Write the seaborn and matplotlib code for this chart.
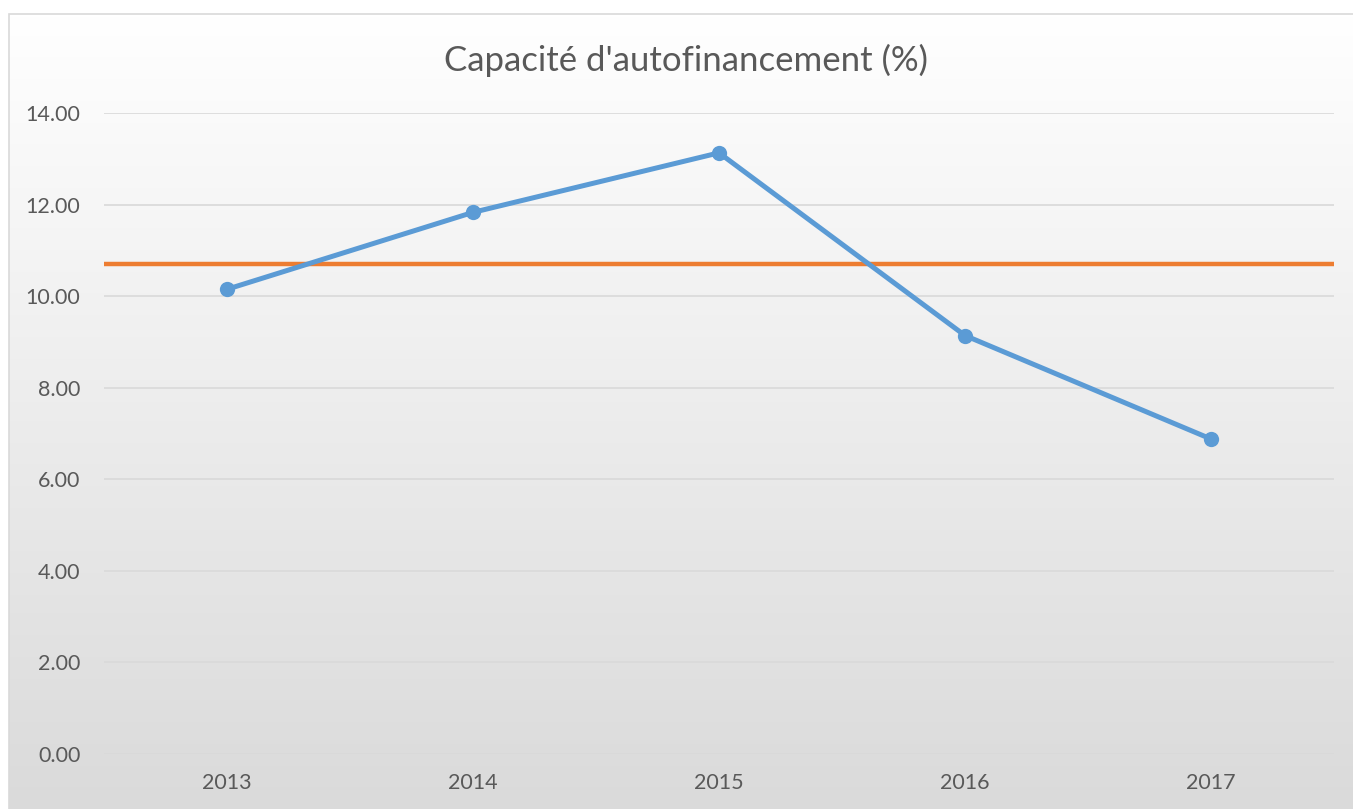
import numpy as np
import pandas as pd
import matplotlib
matplotlib.use("Agg")
import matplotlib.pyplot as plt
import seaborn as sns
from matplotlib.patches import Rectangle

# data
years = ["2013", "2014", "2015", "2016", "2017"]
caf = [10.15, 11.83, 13.13, 9.14, 6.88]
reference_level = 10.70
y_ticks = [0, 2, 4, 6, 8, 10, 12, 14]

df = pd.DataFrame({"year": years, "caf": caf})

sns.set_style("white")
plt.rcParams["font.family"] = ["Lato", "DejaVu Sans"]

fig = plt.figure(figsize=(13.53, 8.09), dpi=100)

# chart area background: white -> light grey gradient, with thin border
bg = fig.add_axes([9 / 1353, 0, 1 - 9 / 1353, 1 - 14 / 809], zorder=0)
grad = np.linspace(0, 1, 256).reshape(-1, 1)
bg.imshow(grad, aspect="auto", cmap=matplotlib.colors.LinearSegmentedColormap.from_list(
    "bg", ["#ffffff", "#dadada"]), extent=[0, 1, 0, 1], origin="upper")
bg.set_axis_off()
fig.patches.append(Rectangle((9 / 1353, -0.01), 1, 1 - 14 / 809 + 0.01,
                             transform=fig.transFigure, fill=False,
                             edgecolor="#d9d9d9", linewidth=1.2, zorder=1))

ax = fig.add_axes([104 / 1353, 1 - 754 / 809, (1334 - 104) / 1353, (754 - 113) / 809], zorder=2)
ax.patch.set_alpha(0)

sns.lineplot(data=df, x="year", y="caf", ax=ax, color="#5B9BD5", linewidth=3.6,
             marker="o", markersize=11, markeredgewidth=0, sort=False, zorder=3)
ax.axhline(reference_level, color="#ED7D31", linewidth=3.2, zorder=2)

ax.set_xlim(-0.5, len(years) - 0.5)
ax.set_ylim(0, 14)
ax.set_yticks(y_ticks)
ax.set_yticklabels([f"{v:.2f}" for v in y_ticks])
ax.grid(axis="y", color="#d9d9d9", linewidth=1.2)
ax.set_axisbelow(True)
for s in ax.spines.values():
    s.set_visible(False)
ax.tick_params(axis="both", length=0, labelsize=15.5, labelcolor="#595959")
ax.tick_params(axis="y", pad=17)
ax.tick_params(axis="x", pad=14)
ax.set_xlabel("")
ax.set_ylabel("")

fig.text(0.507, 1 - 60 / 809, "Capacité d'autofinancement (%)", ha="center", va="center",
         fontsize=25, color="#595959")

fig.savefig("out.png", dpi=100)
